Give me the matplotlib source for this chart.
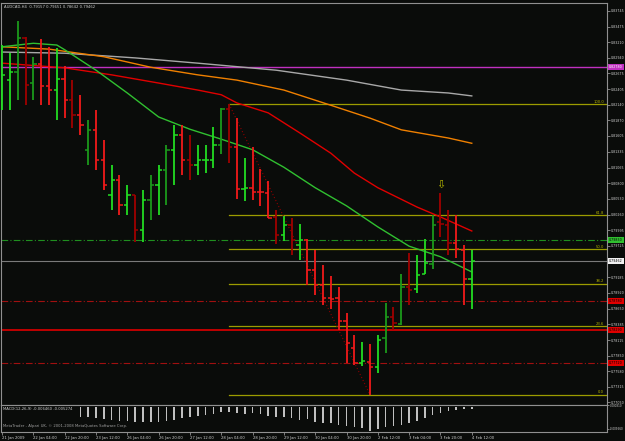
import matplotlib
matplotlib.use("Agg")
import matplotlib.pyplot as plt

# AUDCAD H4 bars
opens = [0.8222, 0.8256, 0.8270, 0.8328, 0.8251, 0.8284, 0.8246, 0.8239, 0.8258, 0.8222,
         0.8196, 0.8137, 0.8171, 0.8119, 0.8060, 0.8085, 0.8042, 0.8060, 0.8000, 0.8051,
         0.8077, 0.8102, 0.8137, 0.8162, 0.8119, 0.8111, 0.8119, 0.8119, 0.8145, 0.8207,
         0.8142, 0.8070, 0.8072, 0.8065, 0.8063, 0.8022, 0.7991, 0.8008, 0.7974, 0.7983,
         0.7931, 0.7906, 0.7883, 0.7883, 0.7844, 0.7798, 0.7772, 0.7774, 0.7765, 0.7815,
         0.7851, 0.7839, 0.7902, 0.7899, 0.7924, 0.7942, 0.8013, 0.8008, 0.7977, 0.7966,
         0.79157]
highs = [0.8316, 0.8302, 0.8357, 0.8330, 0.8296, 0.8326, 0.8313, 0.8311, 0.8280, 0.8256,
         0.8231, 0.8188, 0.8205, 0.8154, 0.8111, 0.8094, 0.8077, 0.8060, 0.8068, 0.8094,
         0.8111, 0.8145, 0.8179, 0.8179, 0.8162, 0.8145, 0.8145, 0.8176, 0.8208, 0.8215,
         0.8191, 0.8123, 0.8142, 0.8104, 0.8083, 0.8034, 0.8024, 0.8020, 0.8010, 0.7984,
         0.7966, 0.7940, 0.7921, 0.7902, 0.7858, 0.7820, 0.7808, 0.7805, 0.7820, 0.7875,
         0.7868, 0.7924, 0.7960, 0.7957, 0.7984, 0.8025, 0.8063, 0.8034, 0.8025, 0.7974,
         0.79651]
lows = [0.8205, 0.8205, 0.8222, 0.8213, 0.8222, 0.8213, 0.8213, 0.8188, 0.8191, 0.8174,
        0.8162, 0.8111, 0.8102, 0.8068, 0.8034, 0.8025, 0.8025, 0.7979, 0.7979, 0.8017,
        0.8025, 0.8042, 0.8077, 0.8094, 0.8085, 0.8094, 0.8097, 0.8106, 0.8130, 0.8114,
        0.8053, 0.8049, 0.8051, 0.8041, 0.8020, 0.7976, 0.7981, 0.7957, 0.7948, 0.7906,
        0.7889, 0.7871, 0.7865, 0.7829, 0.7772, 0.7769, 0.7767, 0.7718, 0.7755, 0.7789,
        0.7829, 0.7837, 0.7871, 0.7892, 0.7924, 0.7933, 0.7988, 0.7957, 0.7952, 0.7871,
        0.78642]
closes = [0.8265, 0.8270, 0.8328, 0.8248, 0.8284, 0.8246, 0.8239, 0.8258, 0.8222, 0.8196,
          0.8179, 0.8171, 0.8119, 0.8077, 0.8085, 0.8042, 0.8060, 0.8000, 0.8051, 0.8077,
          0.8102, 0.8137, 0.8162, 0.8119, 0.8111, 0.8119, 0.8120, 0.8145, 0.8207, 0.8142,
          0.8070, 0.8072, 0.8065, 0.8064, 0.8020, 0.7991, 0.8008, 0.7983, 0.7983, 0.7931,
          0.7906, 0.7883, 0.7882, 0.7844, 0.7807, 0.7772, 0.7776, 0.7765, 0.7812, 0.7851,
          0.7841, 0.7902, 0.7897, 0.7923, 0.7943, 0.8008, 0.8010, 0.7977, 0.7967, 0.7916,
          0.79462]
# G bright green, g dark green, R bright red, r dark red
bar_colors = "GGgrgRRGRrRgRRGRGrGgGgGRrGGGgrRGRRRrGrGRRRRRRRGRGgrgrGGgrrRRG"

time_labels = ["21 Jan 2009", "22 Jan 04:00", "22 Jan 20:00", "23 Jan 12:00",
               "26 Jan 04:00", "26 Jan 20:00", "27 Jan 12:00", "28 Jan 04:00",
               "28 Jan 20:00", "29 Jan 12:00", "30 Jan 04:00", "30 Jan 20:00",
               "2 Feb 12:00", "3 Feb 04:00", "3 Feb 20:00", "4 Feb 12:00"]

# moving averages (bar index, value)
ma_green_idx = [0, 4, 7, 8, 12, 16, 20, 24, 28, 32, 36, 40, 44, 48, 52, 56, 60]
ma_green = [0.8313, 0.8319, 0.8316, 0.8308, 0.8273, 0.8234, 0.8193, 0.8172, 0.8155,
            0.8137, 0.8107, 0.8072, 0.8041, 0.8005, 0.7972, 0.7954, 0.7928]
ma_red_idx = [0, 8, 14, 20, 25, 28, 30, 34, 38, 42, 45, 48, 53, 56, 60]
ma_red = [0.8285, 0.8277, 0.8265, 0.8251, 0.8239, 0.8231, 0.8217, 0.8200, 0.8166,
          0.8131, 0.8097, 0.8072, 0.8039, 0.8022, 0.7998]
ma_orange_idx = [0, 6, 13, 19, 25, 30, 36, 42, 47, 51, 57, 60]
ma_orange = [0.8313, 0.8309, 0.8296, 0.8278, 0.8265, 0.8256, 0.8239, 0.8213, 0.8191,
             0.8171, 0.8157, 0.8148]
ma_gray_idx = [0, 8, 17, 25, 35, 44, 51, 57, 60]
ma_gray = [0.8304, 0.8302, 0.8294, 0.8285, 0.8273, 0.8256, 0.8239, 0.8234, 0.8229]

# MACD histogram
macd_idx = list(range(10, 61))
macd = [-0.0042, -0.0045, -0.0049, -0.0054, -0.0057, -0.0060, -0.0061, -0.0064, -0.0067,
        -0.0064, -0.0064, -0.0061, -0.0057, -0.0049, -0.0042, -0.0038, -0.0034, -0.0030,
        -0.0020, -0.0022, -0.0027, -0.0030, -0.0027, -0.0030, -0.0038, -0.0042, -0.0045,
        -0.0049, -0.0057, -0.0054, -0.0064, -0.0069, -0.0071, -0.0079, -0.0083, -0.0089,
        -0.0094, -0.0104, -0.0098, -0.0089, -0.0083, -0.0079, -0.0071, -0.0060, -0.0049,
        -0.0034, -0.0024, -0.0015, -0.0012, -0.0009, -0.0009]

fib_high, fib_low = 0.8215, 0.7718
fib_start, fib_end_bar = 29, 47
fib_levels = [0.0, 23.6, 38.2, 50.0, 61.8, 100.0]

level_magenta = 0.8278
level_green = 0.7983
levels_red_dash = [0.7878, 0.7772]
level_red = 0.7829

price_ticks = [0.83745, 0.83475, 0.83210, 0.82940, 0.82675, 0.82405, 0.82140, 0.81870,
               0.81605, 0.81335, 0.81065, 0.80800, 0.80530, 0.80260, 0.79995, 0.79725,
               0.79455, 0.79185, 0.78920, 0.78650, 0.78385, 0.78115, 0.77850, 0.77580,
               0.77315, 0.77050]
macd_ticks = [0.00081, -0.00966]

BG = "#0a0c0a"
AX = "#909090"
TXT = "#d0d0d0"
cols = {"G": "#22dd22", "g": "#1b9a1b", "R": "#f21a1a", "r": "#a00000"}
FS = 2.7
FSR = 2.35

fig = plt.figure(figsize=(6.25, 4.41), dpi=100, facecolor=BG)
ax = fig.add_axes([1 / 625, 36 / 441, 606 / 625, 402 / 441], facecolor=BG)
sub = fig.add_axes([1 / 625, 9 / 441, 606 / 625, 27 / 441], facecolor=BG)
for a in (ax, sub):
    a.set_xlim(-0.13, 77.27)
    for s in a.spines.values():
        s.set_color(AX)
        s.set_linewidth(0.8)
ax.set_ylim(0.770045, 0.838787)
sub.set_ylim(-0.0110, 0.0010)

# horizontal levels (behind the bars)
ax.axhline(level_magenta, color="#c030c0", lw=1.0, zorder=1)
ax.axhline(level_green, color="#1f8f1f", lw=0.8, ls=(0, (6, 2, 1, 2)), zorder=1)
ax.axhline(closes[-1], color="#7a7a7a", lw=0.8, zorder=1)
for lv in levels_red_dash:
    ax.axhline(lv, color="#a01010", lw=0.8, ls=(0, (6, 2, 1, 2)), zorder=1)
ax.axhline(level_red, color="#c00000", lw=1.4, zorder=1)

# fibonacci
for f in fib_levels:
    p = fib_low + (fib_high - fib_low) * f / 100
    ax.plot([fib_start, 77.27], [p, p], color="#9c9c00", lw=0.9, zorder=1)
    ax.text(76.9, p + 0.0001, "%.1f" % f, color="#b4b400", fontsize=FS,
            ha="right", va="bottom", zorder=5)
ax.plot([fib_start, fib_end_bar], [fib_high, fib_low], color="#8a0000", lw=0.8,
        ls=(0, (1, 2)), zorder=1)

# moving averages
ax.plot(ma_gray_idx, ma_gray, color="#a8a8a8", lw=1.0, zorder=2)
ax.plot(ma_orange_idx, ma_orange, color="#f08000", lw=1.0, zorder=2)
ax.plot(ma_red_idx, ma_red, color="#e00000", lw=1.0, zorder=2)
ax.plot(ma_green_idx, ma_green, color="#30c030", lw=1.0, zorder=2)

# OHLC bars
for i in range(len(opens)):
    c = cols[bar_colors[i]]
    ax.vlines(i, lows[i], highs[i], color=c, lw=1.3, zorder=3)
    ax.hlines(opens[i], i - 0.42, i, color=c, lw=1.1, zorder=3)
    ax.hlines(closes[i], i, i + 0.42, color=c, lw=1.1, zorder=3)

# fractal arrow above the swing high
ax.text(56, highs[56] + 0.0006, "\u21e9", color="#b4b400", fontsize=8,
        ha="center", va="bottom", zorder=4)

# price scale
ax.yaxis.tick_right()
ax.set_yticks(price_ticks)
ax.set_yticklabels(["%.5f" % t for t in price_ticks])
ax.tick_params(axis="y", colors=AX, labelcolor=TXT, labelsize=FSR, length=2, pad=1, width=0.6)
ax.set_xticks([])

# coloured price tags on the right
tags = [(level_magenta, "#c030c0", "white"), (level_green, "#30c030", "black"),
        (closes[-1], "#f0f0f0", "black"), (levels_red_dash[0], "#e00000", "black"),
        (level_red, "#e00000", "black"), (levels_red_dash[1], "#e00000", "black")]
for lv, bg, fg in tags:
    ax.annotate("%.5f" % lv, xy=(1.003, lv), xycoords=("axes fraction", "data"),
                fontsize=FSR, color=fg, va="center", ha="left", annotation_clip=False,
                bbox=dict(boxstyle="square,pad=0.3", fc=bg, ec="none"), zorder=6)

ax.text(0.005, 0.995, "AUDCAD,H4  0.79157 0.79651 0.78642 0.79462", transform=ax.transAxes,
        color=TXT, fontsize=FS, ha="left", va="top")

# MACD window
sub.bar(macd_idx, macd, width=0.2, color="#c0c0c0", zorder=2)
sub.text(0.004, 0.93, "MACD(12,26,9) -0.006460 -0.005274", transform=sub.transAxes,
         color=TXT, fontsize=FS, ha="left", va="top")
sub.text(0.004, 0.22, "MetaTrader - Alpari UK, \u00a9 2001-2008 MetaQuotes Software Corp.",
         transform=sub.transAxes, color="#a0a0a0", fontsize=FS, ha="left", va="center")
sub.yaxis.tick_right()
sub.set_yticks(macd_ticks)
sub.set_yticklabels(["%.6f" % t for t in macd_ticks])
sub.tick_params(axis="y", colors=AX, labelcolor=TXT, labelsize=1.95, length=1.5, pad=0.5,
                width=0.6)
sub.set_xticks(list(range(0, 61, 4)))
sub.set_xticklabels(time_labels, ha="left")
sub.tick_params(axis="x", colors=AX, labelcolor=TXT, labelsize=FS, length=2, pad=1, width=0.6)

fig.savefig("out.png", dpi=100, facecolor=BG)
